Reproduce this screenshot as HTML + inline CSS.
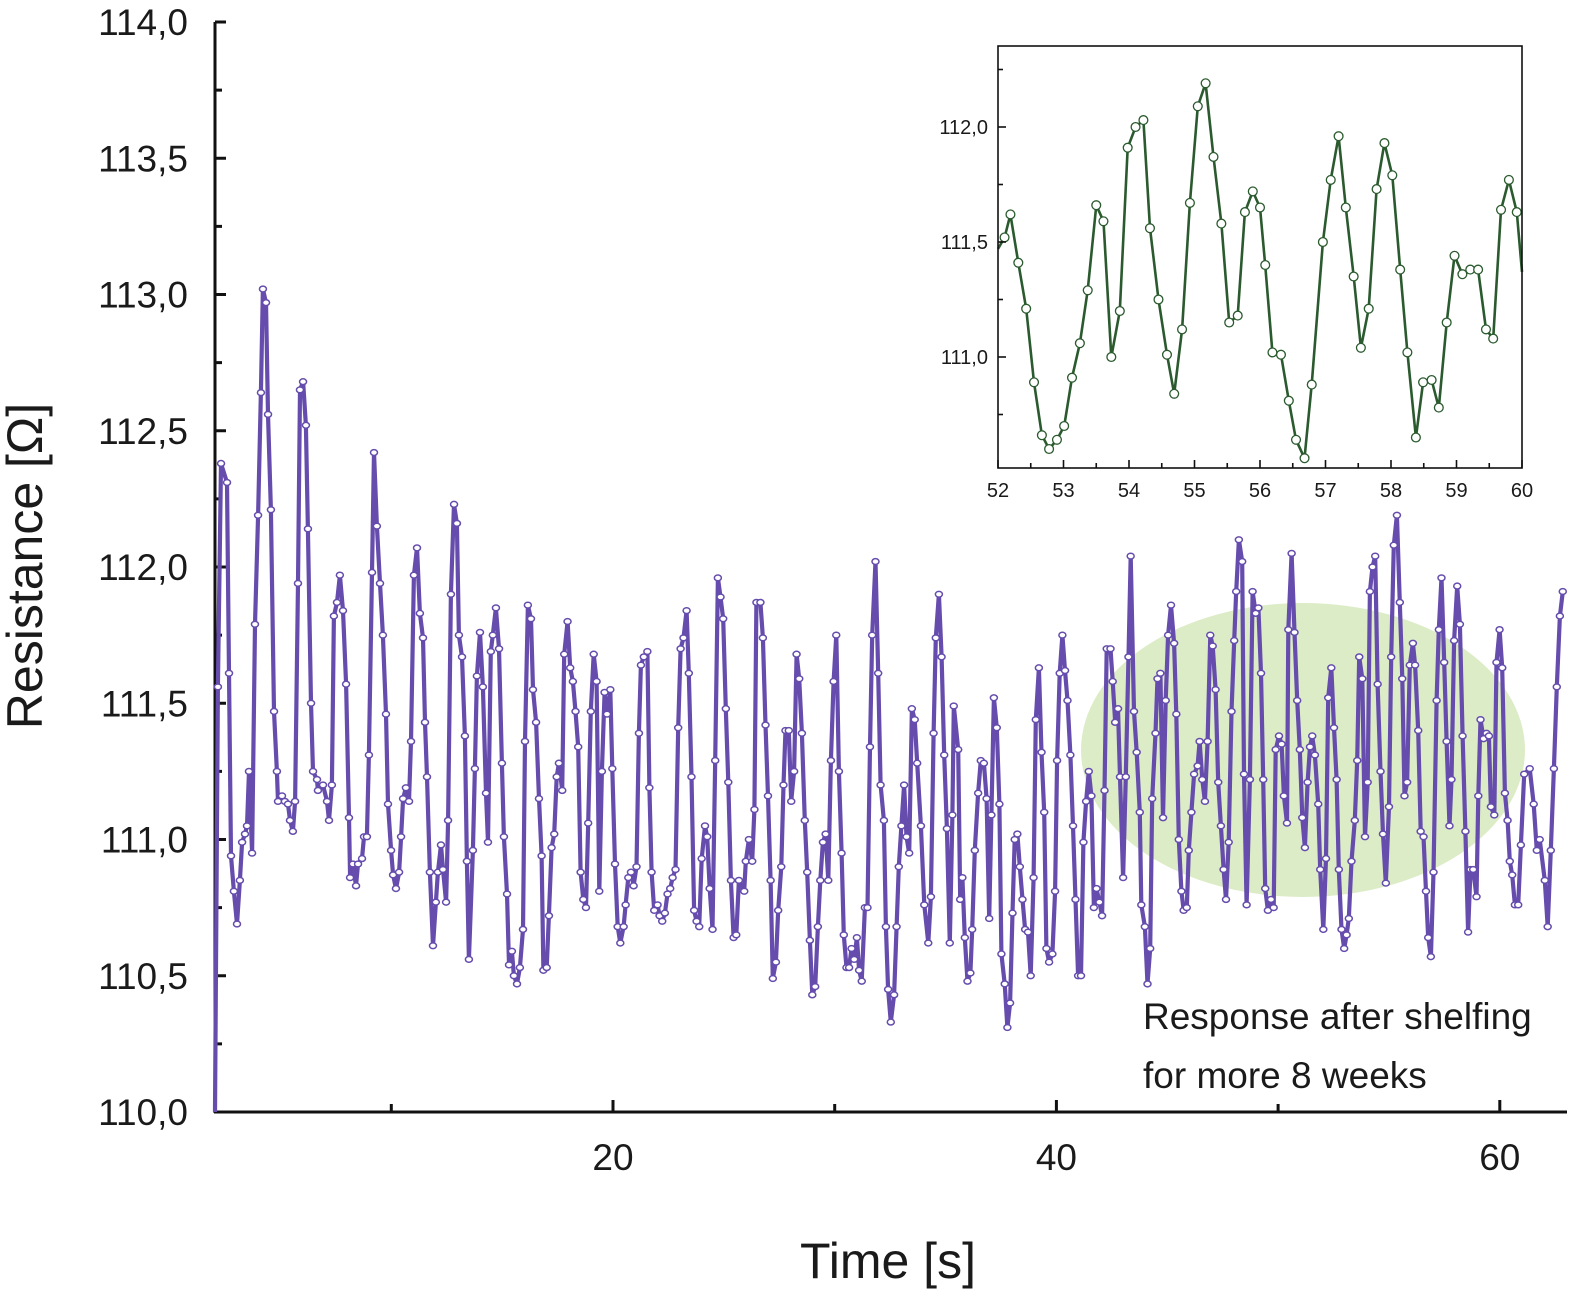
<!DOCTYPE html>
<html>
<head>
<meta charset="utf-8">
<style>
  html,body{margin:0;padding:0;background:#fff;}
  svg{display:block;}
  text{font-family:"Liberation Sans","DejaVu Sans",sans-serif;fill:#1a1a1a;}
</style>
</head>
<body>
<svg id="chart" width="1575" height="1294" viewBox="0 0 1575 1294" xmlns="http://www.w3.org/2000/svg">
  <ellipse cx="1303" cy="750" rx="222" ry="147" fill="#dcecc6"/>
  <g id="main-axes"></g>
  <g id="main-series"></g>
  <text x="1143" y="1029" font-size="37">Response after shelfing</text>
  <text x="1143" y="1088" font-size="37">for more 8 weeks</text>
  <text x="888" y="1278" font-size="50" text-anchor="middle">Time [s]</text>
  <text transform="translate(42,566) rotate(-90)" font-size="50" text-anchor="middle">Resistance [Ω]</text>
  <rect x="998" y="46" width="524" height="422" fill="#fff" stroke="none"/>
  <g id="inset-series"></g>
  <g id="inset-axes"></g>
</svg>
<script>
// ---- main chart data ----
const mainTimes = [2.05,2.18,2.32,2.59,2.68,2.77,2.90,3.04,3.17,3.27,3.40,3.49,3.58,3.72,3.85,3.99,4.12,4.21,4.35,4.44,4.57,4.71,4.84,4.89,5.07,5.20,5.34,5.43,5.56,5.66,5.79,5.88,6.02,6.15,6.24,6.38,6.47,6.65,6.69,6.92,7.10,7.19,7.32,7.41,7.55,7.68,7.82,7.96,8.09,8.14,8.27,8.41,8.50,8.68,8.77,8.90,8.99,9.13,9.22,9.35,9.49,9.62,9.76,9.85,9.99,10.08,10.21,10.35,10.44,10.53,10.66,10.80,10.89,11.02,11.16,11.29,11.43,11.52,11.61,11.74,11.88,12.01,12.10,12.24,12.33,12.47,12.56,12.69,12.83,12.96,13.05,13.19,13.32,13.41,13.50,13.68,13.77,13.86,14.00,14.13,14.27,14.36,14.49,14.58,14.72,14.86,14.99,15.08,15.22,15.31,15.44,15.53,15.67,15.80,15.94,16.03,16.16,16.30,16.39,16.53,16.66,
16.78,16.86,17.01,17.11,17.23,17.35,17.46,17.56,17.71,17.80,17.95,18.07,18.19,18.31,18.43,18.54,18.66,18.78,18.88,19.00,19.13,19.26,19.38,19.50,19.62,19.73,19.88,19.97,20.09,20.21,20.33,20.48,20.57,20.69,20.81,20.93,21.06,21.17,21.26,21.39,21.55,21.64,21.74,21.86,22.01,22.10,22.22,22.34,22.46,22.58,22.69,22.82,22.94,23.05,23.18,23.32,23.42,23.54,23.66,23.77,23.89,24.00,24.15,24.25,24.36,24.49,24.61,24.73,24.85,24.97,25.09,25.20,25.32,25.44,25.56,25.68,25.92,25.99,26.13,26.28,26.38,26.47,26.65,26.76,26.88,26.99,27.11,27.21,27.35,27.45,27.59,27.69,27.78,27.93,28.04,28.17,28.28,28.40,28.52,28.65,28.76,28.88,28.99,29.12,29.24,29.35,29.47,29.59,29.71,29.83,29.95,30.07,30.19,30.31,30.41,30.53,30.65,30.76,30.88,31.00,31.10,31.22,31.36,
31.48,31.59,31.69,31.84,31.96,32.07,32.22,32.31,32.41,32.53,32.68,32.79,32.89,33.01,33.13,33.24,33.36,33.48,33.61,33.72,33.89,34.04,34.22,34.34,34.46,34.56,34.70,34.82,34.94,35.06,35.19,35.31,35.37,35.57,35.66,35.76,35.87,35.99,36.12,36.20,36.32,36.47,36.59,36.73,36.85,36.97,37.07,37.18,37.31,37.43,37.52,37.67,37.79,37.91,38.02,38.12,38.24,38.35,38.47,38.59,38.72,38.84,38.97,39.07,39.21,39.33,39.45,39.55,39.67,39.82,39.94,40.03,40.15,40.27,40.39,40.50,40.63,40.75,40.86,40.98,41.11,41.22,41.34,41.46,41.58,41.69,41.81,41.94,42.06,42.17,42.27,42.44,42.54,42.65,42.78,42.87,43.01,43.13,43.25,43.35,43.50,43.62,43.76,43.83,43.99,44.11,44.23,44.32,44.47,44.56,44.69,44.81,44.93,45.04,45.17,45.31,45.41,45.52,45.64,45.74,45.88,45.97,46.09,46.21,
46.37,46.46,46.58,46.70,46.82,46.94,47.05,47.18,47.30,47.42,47.54,47.65,47.77,47.90,48.02,48.11,48.23,48.38,48.46,48.58,48.73,48.85,48.99,49.11,49.23,49.33,49.42,49.54,49.68,49.80,49.89,50.04,50.16,50.26,50.40,50.46,50.61,50.74,50.86,50.98,51.09,51.21,51.33,51.44,51.54,51.66,51.81,51.90,52.04,52.16,52.26,52.40,52.52,52.64,52.74,52.86,52.98,53.09,53.19,53.31,53.46,53.57,53.66,53.80,53.92,54.04,54.14,54.26,54.38,54.49,54.62,54.73,54.86,55.00,55.10,55.22,55.36,55.49,55.60,55.70,55.82,55.94,56.08,56.18,56.32,56.43,56.56,56.67,56.77,56.89,57.01,57.15,57.25,57.37,57.49,57.60,57.73,57.82,57.94,58.08,58.20,58.32,58.45,58.57,58.68,58.80,58.95,59.03,59.13,59.27,59.40,59.51,59.60,59.75,59.85,59.99,60.11,60.23,60.35,60.45,60.56,60.68,60.83,60.95,61.10,
61.35,61.53,61.67,61.80,62.03,62.16,62.30,62.44,62.57,62.71,62.84];
const mainValues = [110.00,111.56,112.38,112.31,111.61,110.94,110.81,110.69,110.85,110.99,111.02,111.05,111.25,110.95,111.79,112.19,112.64,113.02,112.97,112.56,112.21,111.47,111.25,111.14,111.16,111.14,111.13,111.07,111.03,111.14,111.94,112.65,112.68,112.52,112.14,111.50,111.25,111.22,111.18,111.20,111.14,111.07,111.20,111.82,111.87,111.97,111.84,111.57,111.08,110.86,110.91,110.83,110.91,110.93,111.01,111.01,111.31,111.98,112.42,112.15,111.94,111.75,111.46,111.13,110.96,110.87,110.82,110.88,111.01,111.15,111.19,111.14,111.36,111.97,112.07,111.83,111.74,111.43,111.23,110.88,110.61,110.77,110.88,110.98,110.89,110.77,111.07,111.90,112.23,112.16,111.75,111.67,111.38,110.92,110.56,110.96,111.26,111.60,111.76,111.56,111.17,110.99,111.69,111.75,111.85,111.70,111.28,111.01,110.80,110.54,110.59,110.50,110.47,110.53,110.67,111.36,111.86,111.81,111.55,111.43,111.15,
110.94,110.52,110.53,110.72,110.97,111.02,111.23,111.28,111.18,111.68,111.80,111.63,111.58,111.47,111.34,110.88,110.78,110.75,111.06,111.47,111.68,111.58,110.81,111.25,111.54,111.46,111.55,111.26,110.91,110.68,110.62,110.68,110.76,110.86,110.88,110.83,110.90,111.39,111.64,111.67,111.69,111.19,110.88,110.74,110.76,110.72,110.70,110.73,110.80,110.82,110.86,110.89,111.41,111.70,111.74,111.84,111.61,111.23,110.74,110.70,110.68,110.93,111.05,111.01,110.82,110.67,111.29,111.96,111.89,111.81,111.48,111.21,110.85,110.64,110.65,110.85,110.81,110.92,111.00,110.92,111.11,111.87,111.87,111.74,111.42,111.16,110.85,110.49,110.55,110.74,110.90,111.20,111.40,111.40,111.14,111.25,111.68,111.59,111.39,111.07,110.88,110.63,110.43,110.46,110.68,110.85,110.99,111.02,110.85,111.29,111.58,111.75,111.25,110.95,110.65,110.53,110.53,110.60,110.56,110.64,110.52,110.48,110.75,
110.75,111.34,111.75,112.02,111.61,111.20,111.07,110.68,110.45,110.33,110.43,110.68,110.90,111.05,111.20,111.01,110.95,111.48,111.44,111.28,111.05,110.76,110.62,110.79,111.39,111.74,111.90,111.67,111.31,111.04,110.62,111.09,111.49,111.33,110.78,110.86,110.64,110.48,110.51,110.67,110.96,111.17,111.29,111.28,111.15,110.71,111.09,111.52,111.41,111.13,110.58,110.47,110.31,110.40,110.73,111.00,111.02,110.90,110.78,110.67,110.66,110.50,110.86,111.44,111.63,111.32,111.10,110.60,110.55,110.58,110.81,111.29,111.61,111.75,111.62,111.51,111.31,111.05,110.78,110.50,110.50,110.99,111.14,111.25,111.16,110.75,110.82,110.77,110.72,111.18,111.70,111.70,111.58,111.43,111.48,111.23,110.86,111.23,111.67,112.04,111.47,111.32,111.10,110.76,110.68,110.47,110.60,111.15,111.39,111.59,111.61,111.08,111.51,111.75,111.86,111.72,111.46,111.00,110.81,110.74,110.75,110.96,111.10,111.24,
111.27,111.36,111.22,111.14,111.36,111.75,111.71,111.55,111.21,111.05,110.89,110.78,110.99,111.47,111.73,111.91,112.10,112.02,111.24,110.76,111.22,111.91,111.83,111.85,111.61,111.22,110.82,110.74,110.78,110.75,111.33,111.38,111.35,111.16,111.06,111.77,112.05,111.76,111.51,111.33,111.08,110.97,111.21,111.34,111.38,111.31,111.13,110.89,110.67,110.93,111.52,111.63,111.41,111.22,110.89,110.67,110.60,110.65,110.71,110.92,111.07,111.29,111.67,111.59,111.01,111.21,111.91,112.00,112.04,111.57,111.25,111.02,110.84,111.12,111.67,112.08,112.19,111.87,111.59,111.16,111.21,111.64,111.72,111.64,111.40,111.03,111.01,110.81,110.64,110.57,110.88,111.51,111.77,111.96,111.65,111.36,111.05,111.22,111.73,111.93,111.79,111.38,111.03,110.66,110.89,110.89,110.79,111.16,111.44,111.37,111.39,111.38,111.12,111.09,111.65,111.77,111.63,111.17,111.07,110.92,110.87,110.76,110.76,110.98,111.24,
111.26,111.13,110.96,111.00,110.85,110.68,110.96,111.26,111.56,111.82,111.91];
const mainYTicks = [110.0,110.5,111.0,111.5,112.0,112.5,113.0,113.5,114.0];
const mainYTickLabels = ["110,0","110,5","111,0","111,5","112,0","112,5","113,0","113,5","114,0"];
const mainXTicks = [20,40,60];
const mainXTickLabels = ["20","40","60"];
const mainXMinorTicks = [10,30,50];

// ---- inset data ----
const insetTimes = [52.00,52.10,52.19,52.31,52.43,52.55,52.67,52.78,52.90,53.01,53.13,53.25,53.37,53.50,53.61,53.73,53.86,53.98,54.10,54.22,54.32,54.45,54.58,54.69,54.81,54.93,55.05,55.17,55.29,55.41,55.53,55.66,55.77,55.89,56.00,56.08,56.19,56.32,56.44,56.55,56.68,56.79,56.96,57.08,57.20,57.31,57.43,57.54,57.66,57.78,57.90,58.02,58.14,58.25,58.38,58.49,58.62,58.73,58.85,58.97,59.09,59.21,59.33,59.45,59.56,59.68,59.80,59.92,60.00];
const insetValues = [111.47,111.52,111.62,111.41,111.21,110.89,110.66,110.60,110.64,110.70,110.91,111.06,111.29,111.66,111.59,111.00,111.20,111.91,112.00,112.03,111.56,111.25,111.01,110.84,111.12,111.67,112.09,112.19,111.87,111.58,111.15,111.18,111.63,111.72,111.65,111.40,111.02,111.01,110.81,110.64,110.56,110.88,111.50,111.77,111.96,111.65,111.35,111.04,111.21,111.73,111.93,111.79,111.38,111.02,110.65,110.89,110.90,110.78,111.15,111.44,111.36,111.38,111.38,111.12,111.08,111.64,111.77,111.63,111.37];
const insetYTicks = [111.0,111.5,112.0];
const insetYTickLabels = ["111,0","111,5","112,0"];
const insetYMinor = [110.75,111.25,111.75,112.25];
const insetXTicks = [52,53,54,55,56,57,58,59,60];
const insetXTickLabels = ["52","53","54","55","56","57","58","59","60"];

const NS = "http://www.w3.org/2000/svg";
function mk(tag, attrs, parent){
  const e = document.createElementNS(NS, tag);
  for (const k in attrs) e.setAttribute(k, attrs[k]);
  parent.appendChild(e);
  return e;
}
const mx = t => 613 + (t - 20) * 22.17;
const my = r => 1112 - (r - 110) * 272.5;
const ix = t => 998 + (t - 52) * 65.5;
const iy = r => 357 - (r - 111) * 230;

const ax = document.getElementById('main-axes');
let l = mk('line', {x1:215,y1:22,x2:215,y2:1113,stroke:'#111','stroke-width':3}, ax);


l = mk('line', {x1:214,y1:1112,x2:1567,y2:1112,stroke:'#111','stroke-width':3}, ax);


mainYTicks.forEach((v,i)=>{
  const y = my(v);
  const t = mk('line', {x1:215,y1:y,x2:226,y2:y,stroke:'#111','stroke-width':3}, ax);
  
  
  if (i < mainYTicks.length-1){
    const m = mk('line', {x1:215,y1:my(v+0.25),x2:222,y2:my(v+0.25),stroke:'#111','stroke-width':3}, ax);
    
    
  }
  const tx = mk('text', {x:188,y:y+13,'font-size':37,'text-anchor':'end'}, ax);
  tx.textContent = mainYTickLabels[i];
  
  
});
mainXTicks.forEach((v,i)=>{
  const x = mx(v);
  const t = mk('line', {x1:x,y1:1112,x2:x,y2:1100,stroke:'#111','stroke-width':3}, ax);
  
  
  const tx = mk('text', {x:x,y:1170,'font-size':37,'text-anchor':'middle'}, ax);
  tx.textContent = mainXTickLabels[i];
  
  
});
mainXMinorTicks.forEach(v=>{
  const x = mx(v);
  const t = mk('line', {x1:x,y1:1112,x2:x,y2:1104,stroke:'#111','stroke-width':3}, ax);
  
  
});

const ms = document.getElementById('main-series');
const pts = mainTimes.map((t,i)=>mx(t).toFixed(1)+','+my(mainValues[i]).toFixed(1)).join(' ');
const pl = mk('polyline', {points:pts,fill:'none',stroke:'#654cad','stroke-width':4.2,'stroke-linejoin':'round'}, ms);


mainTimes.forEach((t,i)=>{
  if (i===0) return;
  const c = mk('ellipse', {cx:mx(t),cy:my(mainValues[i]),rx:3.5,ry:2.9,fill:'#fff',stroke:'#654cad','stroke-width':1.5}, ms);
  
  
});

const is = document.getElementById('inset-series');
const ipts = insetTimes.map((t,i)=>ix(t).toFixed(1)+','+iy(insetValues[i]).toFixed(1)).join(' ');
const ipl = mk('polyline', {points:ipts,fill:'none',stroke:'#2a5a2e','stroke-width':2.6,'stroke-linejoin':'round'}, is);


insetTimes.forEach((t,i)=>{
  if (i===0 || i===insetTimes.length-1) return;
  const c = mk('circle', {cx:ix(t),cy:iy(insetValues[i]),r:4.4,fill:'#fff',stroke:'#2a5a2e','stroke-width':1.3}, is);
  
  
});

const ia = document.getElementById('inset-axes');
const box = mk('rect', {x:998,y:46,width:524,height:422,fill:'none',stroke:'#111','stroke-width':1.6}, ia);


insetYTicks.forEach((v,i)=>{
  const y = iy(v);
  const t = mk('line', {x1:998,y1:y,x2:1006,y2:y,stroke:'#111','stroke-width':1.6}, ia);
  
  
  const tx = mk('text', {x:988,y:y+7,'font-size':20,'text-anchor':'end'}, ia);
  tx.textContent = insetYTickLabels[i];
  
  
});
insetYMinor.forEach(v=>{
  const y = iy(v);
  const t = mk('line', {x1:998,y1:y,x2:1003,y2:y,stroke:'#111','stroke-width':1.6}, ia);
  
  
});
insetXTicks.forEach((v,i)=>{
  const x = ix(v);
  const t = mk('line', {x1:x,y1:468,x2:x,y2:460,stroke:'#111','stroke-width':1.6}, ia);
  
  
  if (i < insetXTicks.length-1){
    const m = mk('line', {x1:ix(v+0.5),y1:468,x2:ix(v+0.5),y2:463,stroke:'#111','stroke-width':1.6}, ia);
    
    
  }
  const tx = mk('text', {x:x,y:497,'font-size':20,'text-anchor':'middle'}, ia);
  tx.textContent = insetXTickLabels[i];
  
  
});
</script>
</body>
</html>
